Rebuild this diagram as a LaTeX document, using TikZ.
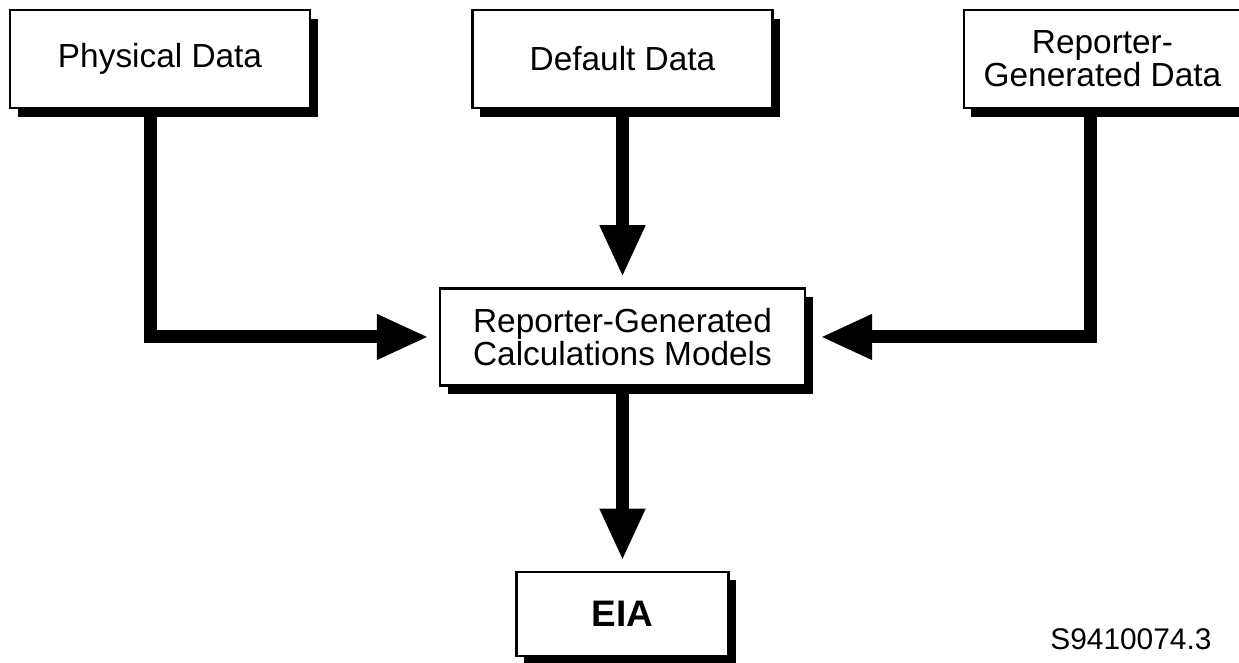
\documentclass[tikz,border=0pt]{standalone}
\usepackage{fontspec}
\setmainfont{Liberation Sans}
\usetikzlibrary{positioning, arrows.meta, shadows}

\begin{document}
\begin{tikzpicture}[
        node distance=3.2cm,
        datasrc/.style={rectangle, minimum width=6.0cm, minimum height=1.96cm, text centered, align=center, draw=black, line width=1.4pt, fill=white, font=\fontsize{19}{17}\selectfont, drop shadow={shadow xshift=0.15cm, shadow yshift=-0.17cm, fill=black, opacity=1}},
        model/.style={datasrc, minimum width=7.3cm, minimum height=1.94cm},
        result/.style={datasrc, minimum width=4.24cm, minimum height=1.68cm, font=\fontsize{21}{21}\selectfont\bfseries},
        arrow/.style={line width=0.26cm, line join=miter, -{Triangle[length=1.04cm, width=0.84cm]}, shorten >=0.2cm}
    ]
        \useasboundingbox (0,0) rectangle (24.78,-13.24);

        % ===== data sources =====
        \node (default) [datasrc] at (12.45,-1.18) {Default Data};
        \node (physical) [datasrc, left=3.2cm of default] {Physical Data};
        \node (reporter) [datasrc, minimum width=5.54cm, right=3.78cm of default] {Reporter-\\Generated Data};

        % ===== models and output =====
        \node (calc) [model, below=3.56cm of default] {Reporter-Generated\\Calculations Models};
        \node (eia) [result, below=3.68cm of calc] {EIA};
        \node (figid) [anchor=base west, font=\fontsize{17}{17}\selectfont, inner sep=0pt] at (21.0,-12.98) {S9410074.3};

        % ===== arrows =====
        \draw [arrow] ([xshift=-0.19cm]physical.south) |- (calc.west);
        \draw [arrow] (default.south) -- (calc.north);
        \draw [arrow, shorten >=0.28cm] ([xshift=-0.23cm]reporter.south) |- (calc.east);
        \draw [arrow] (calc.south) -- (eia.north);

    \end{tikzpicture}
\end{document}
